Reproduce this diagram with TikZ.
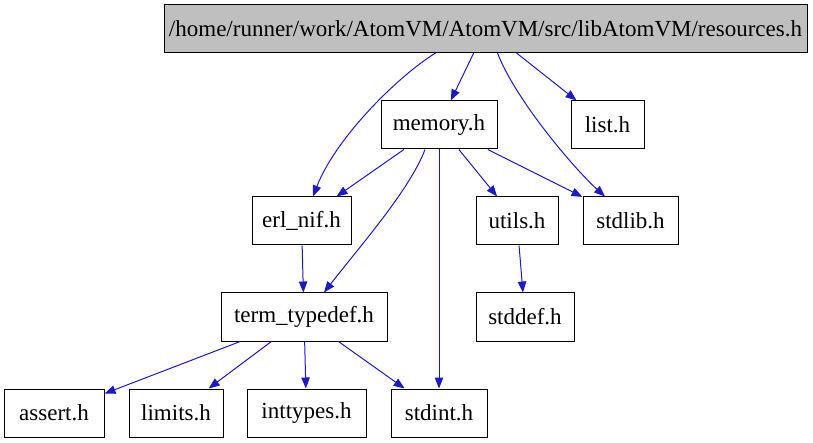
\documentclass[tikz,border=0pt]{standalone}
\usepackage{fontspec}
\setmainfont{Liberation Serif}
\usepackage{xcolor}
\usetikzlibrary{arrows.meta}
\definecolor{edgeBlue}{HTML}{1A1ACC}
\definecolor{rootGray}{HTML}{BFBFBF}
\tikzset{
  hdr/.style={draw=black, line width=1pt, minimum height=48pt, inner sep=0pt},
  dep/.style={-{Triangle[length=11pt, width=8.5pt]}, edgeBlue, line width=1pt},
}

\begin{document}
\begin{tikzpicture}[x=1pt, y=-1pt, every node/.style={font=\fontsize{23}{27}\selectfont}]
  \useasboundingbox (0,0) rectangle (813,443);

  % ROW 0: the file itself
  \node[hdr, fill=rootGray, minimum width=643] (resources) at (485.5,28.5)
    {/home/runner/work/AtomVM/AtomVM/src/libAtomVM/resources.h};

  % ROW 1
  \node[hdr, minimum width=116] (memory) at (439,125) {memory.h};
  \node[hdr, minimum width=73] (list) at (607.5,125) {list.h};

  % ROW 2
  \node[hdr, minimum width=99] (erlnif) at (301.5,221) {erl\_nif.h};
  \node[hdr, minimum width=82] (utils) at (517,221) {utils.h};
  \node[hdr, minimum width=95] (stdlib) at (630.5,221) {stdlib.h};

  % ROW 3
  \node[hdr, minimum width=166] (termtypedef) at (304,317) {term\_typedef.h};
  \node[hdr, minimum width=98] (stddef) at (525,317) {stddef.h};

  % ROW 4
  \node[hdr, minimum width=100] (assert) at (54,413) {assert.h};
  \node[hdr, minimum width=94] (limits) at (176,413) {limits.h};
  \node[hdr, minimum width=119] (inttypes) at (306.5,413) {inttypes.h};
  \node[hdr, minimum width=96] (stdint) at (439,413) {stdint.h};

  % edges from resources.h
  \draw[dep] ([xshift=-50pt]resources.south) .. controls +(-40,25) and +(22,-57) .. ([xshift=11.5pt]erlnif.north);
  \draw[dep] (resources) -- (memory);
  \draw[dep] ([xshift=12pt]resources.south) .. controls +(18,47) and +(-30,-27) .. ([xshift=-25.5pt]stdlib.north);
  \draw[dep] (resources) -- (list);

  % edges from memory.h
  \draw[dep] (memory) -- (erlnif);
  \draw[dep] ([xshift=-14pt]memory.south) .. controls +(-15,40) and +(35,-45) .. ([xshift=20pt]termtypedef.north);
  \draw[dep] (memory) -- (stdint);
  \draw[dep] (memory) -- (utils);
  \draw[dep] (memory) -- (stdlib);

  % lower edges
  \draw[dep] (erlnif) -- (termtypedef);
  \draw[dep] (utils) -- (stddef);
  \foreach \dst in {assert, limits, inttypes, stdint}
    \draw[dep] (termtypedef) -- (\dst);
\end{tikzpicture}
\end{document}
